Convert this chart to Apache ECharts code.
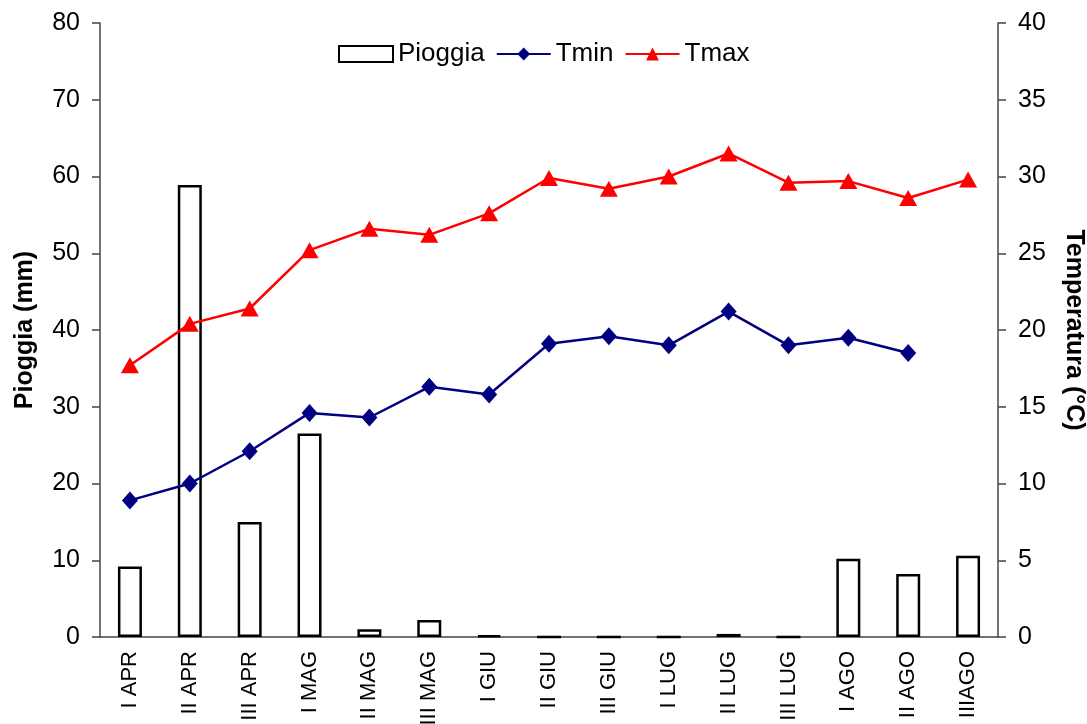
<!DOCTYPE html>
<html>
<head>
<meta charset="utf-8">
<script src="https://cdn.jsdelivr.net/npm/echarts@6/dist/echarts.min.js"></script>
<style>
  html, body { margin: 0; padding: 0; background: #fff; }
  #chart { width: 1087px; height: 724px; }
</style>
</head>
<body>
<div id="chart"></div>
<script>
var categories = ['I APR', 'II APR', 'III APR', 'I MAG', 'II MAG', 'III MAG', 'I GIU', 'II GIU',
  'III GIU', 'I LUG', 'II LUG', 'III LUG', 'I AGO', 'II AGO', 'IIIAGO'];
var pioggia = [9.2, 58.9, 15.0, 26.5, 1.0, 2.2, 0.2, 0, 0, 0, 0.4, 0, 10.2, 8.2, 10.6];
var tmin = [8.9, 10.0, 12.1, 14.6, 14.3, 16.3, 15.8, 19.1, 19.6, 19.0, 21.2, 19.0, 19.5, 18.5, null];
var tmax = [17.7, 20.4, 21.4, 25.2, 26.6, 26.2, 27.6, 29.9, 29.2, 30.0, 31.5, 29.6, 29.7, 28.6, 29.8];

var font = 'Liberation Sans, Arial, sans-serif';
var axisColor = '#444';

var chart = echarts.init(document.getElementById('chart'));

var option = {
  animation: false,
  textStyle: { fontFamily: font },
  grid: { left: 100, right: 89, top: 23, bottom: 87, outerBoundsMode: 'none', containLabel: false },
  legend: {
    top: 36,
    left: 333,
    itemWidth: 54,
    itemHeight: 16,
    itemGap: 11,
    textStyle: { fontSize: 26, color: '#000', fontFamily: font },
    data: [{ name: 'Pioggia', icon: 'rect' }, 'Tmin', 'Tmax']
  },
  xAxis: {
    type: 'category',
    data: categories,
    axisLine: { lineStyle: { color: axisColor, width: 1.5 } },
    axisTick: { interval: 2, length: 8, lineStyle: { color: axisColor, width: 1.5 } },
    axisLabel: { interval: 0, rotate: 90, fontSize: 22, color: '#000', margin: 14, fontFamily: font }
  },
  yAxis: [{
    type: 'value',
    min: 0, max: 80, interval: 10,
    name: 'Pioggia (mm)',
    nameLocation: 'middle',
    nameRotate: 90,
    nameGap: 62,
    nameTextStyle: { fontSize: 25, fontWeight: 'bold', color: '#000', fontFamily: font },
    axisLine: { show: true, lineStyle: { color: axisColor, width: 1.5 } },
    axisTick: { show: true, length: 8, lineStyle: { color: axisColor, width: 1.5 } },
    axisLabel: { fontSize: 25, color: '#000', margin: 20, fontFamily: font },
    splitLine: { show: false }
  }, {
    type: 'value',
    min: 0, max: 40, interval: 5,
    position: 'right',
    name: 'Temperatura (°C)',
    nameLocation: 'middle',
    nameRotate: -90,
    nameGap: 63,
    nameTextStyle: { fontSize: 25, fontWeight: 'bold', color: '#000', fontFamily: font },
    axisLine: { show: true, lineStyle: { color: axisColor, width: 1.5 } },
    axisTick: { show: true, length: 8, lineStyle: { color: axisColor, width: 1.5 } },
    axisLabel: { fontSize: 25, color: '#000', margin: 20, fontFamily: font },
    splitLine: { show: false }
  }],
  series: [{
    name: 'Pioggia',
    type: 'bar',
    yAxisIndex: 0,
    barWidth: 24,
    data: pioggia,
    itemStyle: { color: '#fff', borderColor: '#000', borderWidth: 2.5 }
  }, {
    name: 'Tmin',
    type: 'line',
    yAxisIndex: 1,
    data: tmin,
    symbol: 'diamond',
    symbolSize: [16, 18],
    lineStyle: { color: '#000080', width: 2.5 },
    itemStyle: { color: '#000080' }
  }, {
    name: 'Tmax',
    type: 'line',
    yAxisIndex: 1,
    data: tmax,
    symbol: 'triangle',
    symbolSize: [18, 16],
    lineStyle: { color: '#ff0000', width: 2.5 },
    itemStyle: { color: '#ff0000' }
  }]
};

chart.setOption(option);
</script>
</body>
</html>
